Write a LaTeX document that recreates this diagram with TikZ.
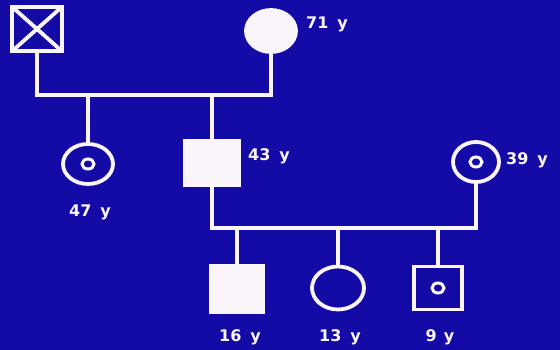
\documentclass[tikz,border=0pt]{standalone}
\usepackage{fontspec}
\setsansfont{DejaVu Sans}
\usetikzlibrary{shapes.geometric}
\definecolor{bg}{RGB}{20,10,165}
\definecolor{fg}{RGB}{250,245,250}
\tikzset{
  line/.style={draw=fg, line width=3.8pt},
  male/.style={draw=fg, line width=3.8pt, minimum width=50pt, minimum height=44pt, inner sep=0pt},
  female/.style={ellipse, draw=fg, line width=3.8pt, minimum width=50pt, minimum height=40pt, inner sep=0pt},
  dot/.style={ellipse, draw=fg, line width=3pt, minimum width=12pt, minimum height=10pt, inner sep=0pt},
  lab/.style={text=fg, font=\sffamily\bfseries\fontsize{16}{16}\selectfont, inner sep=0pt}
}
\begin{document}
\begin{tikzpicture}[x=1pt,y=-1pt]
\fill[bg] (0,0) rectangle (560,350);
\useasboundingbox (0,0) rectangle (560,350);
% grandparents
\node[male] (gf) at (37,29) {};
\begin{scope}
\clip (gf.north west) rectangle (gf.south east);
\draw[fg, line width=3.8pt] (gf.north west) -- (gf.south east) (gf.north east) -- (gf.south west);
\end{scope}
\node[female, fill=fg, minimum width=50pt, minimum height=42pt] (gm) at (271,31) {};
\node[lab, anchor=west] (gml) at (306,24) {71\hspace{9pt}y};
\coordinate (bar1) at (150,95);
\draw[line] (gf.south) |- (bar1) -| (gm.south);
% generation 2
\node[female] (aunt) at (88,164) {};
\node[dot] (auntd) at (88,164) {};
\node[lab] (auntl) at (90,212) {47\hspace{9pt}y};
\node[male, fill=fg, minimum width=54pt, minimum height=45pt] (father) at (212,163) {};
\node[lab, anchor=west] (fatherl) at (248,156) {43\hspace{9pt}y};
\node[female, minimum width=46pt, minimum height=40pt] (mother) at (476,162) {};
\node[dot] (motherd) at (476,162) {};
\node[lab, anchor=west] (motherl) at (506,160) {39\hspace{9pt}y};
\draw[line] (aunt.north) -- (aunt.north |- bar1);
\draw[line] (father.north) -- (father.north |- bar1);
\coordinate (bar2) at (340,228);
\draw[line] (father.south) |- (bar2) -| (mother.south);
% generation 3
\node[male, fill=fg, minimum width=53pt, minimum height=47pt] (c1) at (237,289) {};
\node[female, minimum width=52pt, minimum height=43pt] (c2) at (338,288) {};
\node[male, minimum width=48pt, minimum height=43pt] (c3) at (438,288) {};
\node[dot] (c3d) at (438,288) {};
\node[lab] (c1l) at (240,337) {16\hspace{9pt}y};
\node[lab] (c2l) at (340,337) {13\hspace{9pt}y};
\node[lab] (c3l) at (440,337) {9\hspace{7pt}y};
\draw[line] (c1.north) -- (c1.north |- bar2);
\draw[line] (c2.north) -- (c2.north |- bar2);
\draw[line] (c3.north) -- (c3.north |- bar2);
\end{tikzpicture}
\end{document}
